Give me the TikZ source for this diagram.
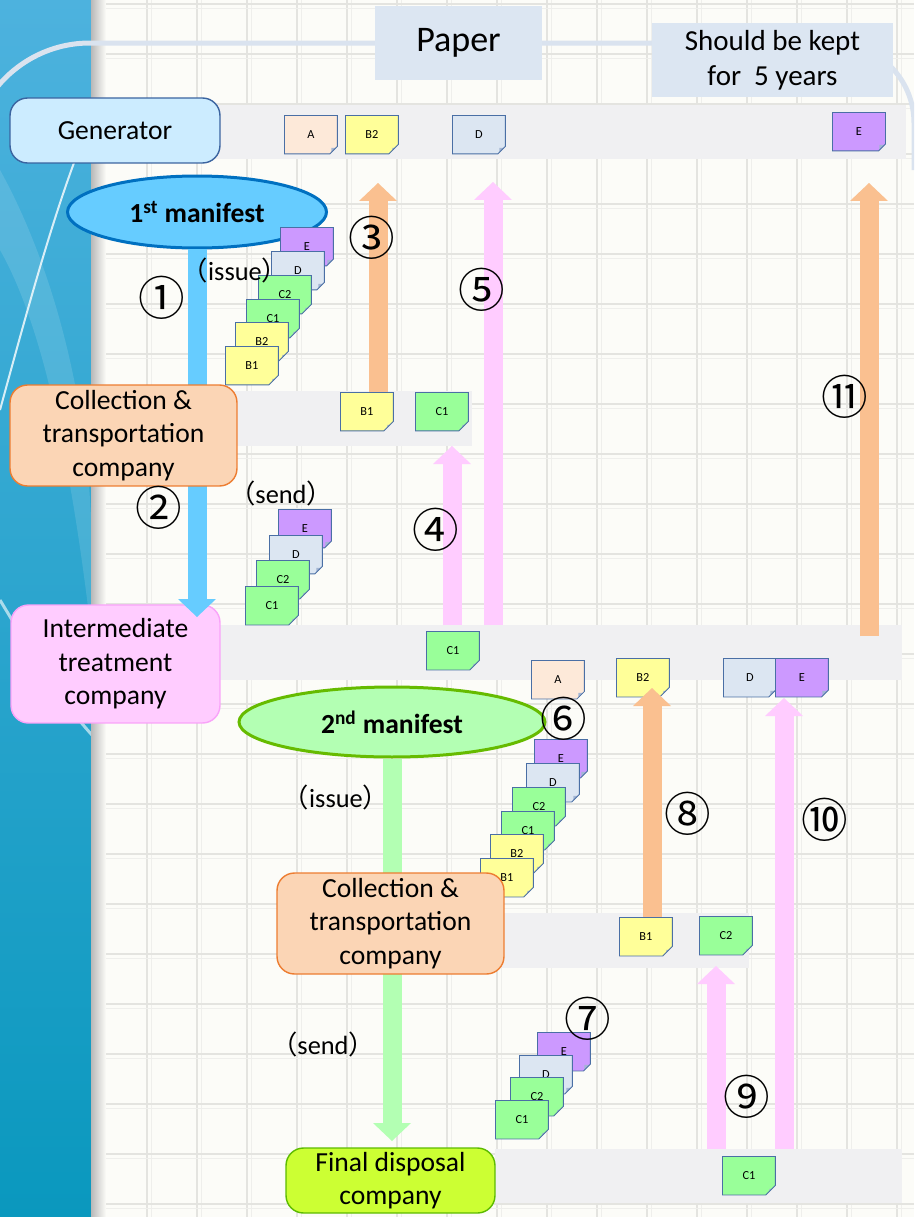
\documentclass[tikz,border=0pt]{standalone}
\usepackage{fontspec}
\setmainfont{Carlito}
\newfontfamily\jpfont{Noto Sans CJK JP}
\usetikzlibrary{arrows.meta,positioning,shapes.geometric,shapes.misc,calc}
\newcommand\jp[1]{{\jpfont #1}}
\definecolor{PageBg}{HTML}{FCFCF8}
\definecolor{GridLine}{HTML}{E4E4E0}
\definecolor{BandTop}{HTML}{4DB2DE}
\definecolor{BandBottom}{HTML}{0A98BE}
\definecolor{PaperLine}{HTML}{DAE3EF}
\definecolor{PaperFill}{HTML}{DCE6F2}
\definecolor{RowGray}{HTML}{F0F0F2}
\definecolor{GenFill}{HTML}{CCECFF}
\definecolor{GenLine}{HTML}{3B64A0}
\definecolor{CtcFill}{HTML}{FBD5B5}
\definecolor{CtcLine}{HTML}{ED7D31}
\definecolor{ItcFill}{HTML}{FFCCFF}
\definecolor{ItcLine}{HTML}{F9A3F9}
\definecolor{FdcFill}{HTML}{CCFF33}
\definecolor{FdcLine}{HTML}{5DBB00}
\definecolor{MOneFill}{HTML}{66CCFF}
\definecolor{MOneLine}{HTML}{0070C0}
\definecolor{MTwoFill}{HTML}{B3FFB3}
\definecolor{MTwoLine}{HTML}{66BB00}
\definecolor{ArrowBlue}{HTML}{66CCFF}
\definecolor{ArrowPeach}{HTML}{FAC090}
\definecolor{ArrowPink}{HTML}{FFCCFF}
\definecolor{ArrowGreen}{HTML}{B3FFB3}
\definecolor{NoteA}{HTML}{FDE9D9}
\definecolor{NoteB}{HTML}{FFFF99}
\definecolor{NoteC}{HTML}{99FF99}
\definecolor{NoteD}{HTML}{DCE6F2}
\definecolor{NoteE}{HTML}{CC99FF}
\definecolor{NoteLine}{HTML}{4A6FA5}
\definecolor{NoteFold}{HTML}{A3B5D3}

\begin{document}
\begin{tikzpicture}[
 x=0.02cm,y=-0.02cm,
 company/.style={draw,rounded corners=0.35cm,line width=0.8pt,align=center,inner sep=0pt,font=\fontsize{15.7}{19}\selectfont},
 manifest/.style={ellipse,line width=0.06cm,inner sep=0pt,font=\bfseries\fontsize{15.7}{19}\selectfont},
 paperbox/.style={fill=PaperFill,align=center,inner sep=0pt,minimum height=1.48cm},
 row/.style={fill=RowGray,inner sep=0pt,anchor=north west},
 memo/.style={chamfered rectangle,chamfered rectangle corners=south east,chamfered rectangle xsep=0.12cm,
   draw=NoteLine,line width=0.5pt,fill=#1,minimum width=1.06cm,minimum height=0.77cm,inner sep=0pt,
   anchor=north west,font=\fontsize{7}{8}\selectfont,
   path picture={\fill[NoteFold] ([xshift=-0.12cm]path picture bounding box.south east)
     -- ([yshift=0.12cm]path picture bounding box.south east)
     -- ([xshift=-0.12cm,yshift=0.12cm]path picture bounding box.south east) -- cycle;}},
 flow/.style={draw=#1,line width=0.38cm,-{Triangle[length=0.36cm,width=0.76cm,line width=0pt]}},
 act/.style={inner sep=0pt,font=\fontsize{15}{18}\selectfont},
 num/.style={inner sep=0pt,font=\jpfont\fontsize{26.5}{27}\selectfont}
]
\useasboundingbox (0,0) rectangle (914,1217);
\clip (0,0) rectangle (914,1217);

% page, side band and grid
\fill[PageBg] (0,0) rectangle (914,1217);
\shade[top color=BandTop,bottom color=BandBottom] (0,0) rectangle (92,1217);
\fill[white,opacity=0.12] (0,170) .. controls (50,260) and (92,400) .. (92,560) -- (92,640) .. controls (70,450) and (40,320) .. (0,250) -- cycle;
\draw[white,opacity=0.8,line width=0.04cm] (0,410) .. controls (30,300) and (60,190) .. (92,118);
\draw[white,opacity=0.6,line width=0.06cm] (0,600) .. controls (30,650) and (60,700) .. (92,735);
\shade[left color=gray!55,right color=PageBg] (91,0) rectangle (106,1217);
\foreach \x in {147,197,...,897} \draw[GridLine,line width=0.035cm] (\x,0) -- (\x,1217);
\foreach \x in {151,201,...,901} \draw[GridLine!60,line width=0.02cm] (\x,0) -- (\x,1217);
\foreach \y in {4,54,...,1204} \draw[GridLine,line width=0.035cm] (106,\y) -- (914,\y);
\foreach \y in {8,58,...,1208} \draw[GridLine!60,line width=0.02cm] (106,\y) -- (914,\y);

% paper bracket
\draw[PaperLine,line width=0.1cm,rounded corners=2.4cm] (-30,400) -- (-30,43) -- (600,43);
\draw[PaperLine,line width=0.1cm,rounded corners=1.6cm] (600,43) -- (914,43) -- (914,170);
\node[paperbox,minimum width=3.34cm,font=\fontsize{20.5}{24}\selectfont] (paper) at (458.5,43) {Paper};
\node[paperbox,minimum width=4.82cm,font=\fontsize{16.5}{20}\selectfont] (keep) at (772.5,60) {Should be kept\\for~~5 years};

% rows
\node[row,minimum width=13.82cm,minimum height=1.08cm] (genrow) at (215,105) {};
\node[row,minimum width=4.84cm,minimum height=1.1cm] (ctcrowA) at (230,391) {};
\node[row,minimum width=13.74cm,minimum height=1.1cm] (itcrow) at (215,625) {};
\node[row,minimum width=5.08cm,minimum height=1.1cm] (ctcrowB) at (495,913) {};
\node[row,minimum width=8.14cm,minimum height=1.08cm] (fdcrow) at (495,1149) {};

\node[company,fill=GenFill,draw=GenLine,minimum width=4.2cm,minimum height=1.3cm] (gen) at (115,130.5) {Generator};
\node[company,fill=ItcFill,draw=ItcLine,minimum width=4.18cm,minimum height=2.36cm] (itc) at (115.5,664) {Intermediate\\treatment\\company};
\node[company,fill=FdcFill,draw=FdcLine,minimum width=4.18cm,minimum height=1.3cm] (fdc) at (390.5,1180.5) {Final disposal\\company};
\node[manifest,fill=MOneFill,draw=MOneLine,minimum width=5.18cm,minimum height=1.44cm] (m1) at (197,212) {1\textsuperscript{st} manifest};
\node[manifest,fill=MTwoFill,draw=MTwoLine,minimum width=6.12cm,minimum height=1.4cm] (m2) at (392,722) {2\textsuperscript{nd} manifest};

\coordinate (t1) at (197,617);
\coordinate (t6) at (392,1141);
\draw[flow=ArrowBlue] (m1.south) -- (t1);
\draw[flow=ArrowGreen] (m2.south) -- (t6);

% notes
\node[memo=NoteA] (gA) at (284,115) {A};
\node[memo=NoteB] (gB2) at (345,115) {B2};
\node[memo=NoteD] (gD) at (452,115) {D};
\node[memo=NoteE] (gE) at (832,112) {E};
\foreach \lab/\col/\x/\y in {E/NoteE/280/227,D/NoteD/271/251,C2/NoteC/258/275,C1/NoteC/246/299,B2/NoteB/235/322,B1/NoteB/225/346}
  \node[memo=\col] (is1-\lab) at (\x,\y) {\lab};
\node[memo=NoteB] (aB1) at (340,392) {B1};
\node[memo=NoteC] (aC1) at (415,392) {C1};
\foreach \lab/\col/\x/\y in {E/NoteE/278/509,D/NoteD/269/535,C2/NoteC/256/560,C1/NoteC/245/586}
  \node[memo=\col] (sd1-\lab) at (\x,\y) {\lab};
\node[memo=NoteC] (tC1) at (426,631) {C1};
\node[memo=NoteA] (tA) at (531,660) {A};
\node[memo=NoteB] (tB2) at (616,658) {B2};
\node[memo=NoteD] (tD) at (723,658) {D};
\node[memo=NoteE] (tE) at (775,658) {E};
\foreach \lab/\col/\x/\y in {E/NoteE/534/739,D/NoteD/526/763,C2/NoteC/512/787,C1/NoteC/501/811,B2/NoteB/490/834,B1/NoteB/480/858}
  \node[memo=\col] (is2-\lab) at (\x,\y) {\lab};
\node[memo=NoteB] (bB1) at (619,917) {B1};
\node[memo=NoteC] (bC2) at (699,916) {C2};
\foreach \lab/\col/\x/\y in {E/NoteE/537/1032,D/NoteD/519/1055,C2/NoteC/510/1077,C1/NoteC/495/1100}
  \node[memo=\col] (sd2-\lab) at (\x,\y) {\lab};
\node[memo=NoteC] (fC1) at (722,1156) {C1};

\node[company,fill=CtcFill,draw=CtcLine,minimum width=4.54cm,minimum height=2.02cm] (ctcA) at (123.5,435.5) {Collection \&\\transportation\\company};
\node[company,fill=CtcFill,draw=CtcLine,minimum width=4.54cm,minimum height=2.02cm] (ctcB) at (390.5,923.5) {Collection \&\\transportation\\company};

% returned copies
\coordinate (t3) at (378,183);
\coordinate (t4) at (452,446);
\coordinate (t5) at (493,182);
\coordinate (t8) at (652,688);
\coordinate (t9) at (716,966);
\coordinate (t10) at (784,698);
\coordinate (t11) at (869,183);
\coordinate (s11) at (869,636);
\draw[flow=ArrowPeach] (t3 |- aB1.north) -- (t3);
\draw[flow=ArrowPink] (t4 |- itcrow.north) -- (t4);
\draw[flow=ArrowPink] (t5 |- itcrow.north) -- (t5);
\draw[flow=ArrowPeach] (s11) -- (t11);
\draw[flow=ArrowPeach] (t8 |- bB1.north) -- (t8);
\draw[flow=ArrowPink] (t9 |- fdcrow.north) -- (t9);
\draw[flow=ArrowPink] (t10 |- fdcrow.north) -- (t10);

\node[act] (issA) at (235,270) {\jp{（}issue\jp{）}};
\node[act] (sendA) at (281,493) {\jp{（}send\jp{）}};
\node[act] (issB) at (336,797) {\jp{（}issue\jp{）}};
\node[act] (sendB) at (323,1044) {\jp{（}send\jp{）}};

\node[num] (n1) at (162,298) {①};
\node[num] (n2) at (159,508) {②};
\node[num] (n3) at (372,238) {③};
\node[num] (n4) at (436,530) {④};
\node[num] (n5) at (482,290) {⑤};
\node[num] (n6) at (564,719) {⑥};
\node[num] (n7) at (588,1019) {⑦};
\node[num] (n8) at (688,814) {⑧};
\node[num] (n9) at (747,1097) {⑨};
\node[num] (n10) at (825,820) {⑩};
\node[num] (n11) at (845,397) {⑪};
\end{tikzpicture}
\end{document}
